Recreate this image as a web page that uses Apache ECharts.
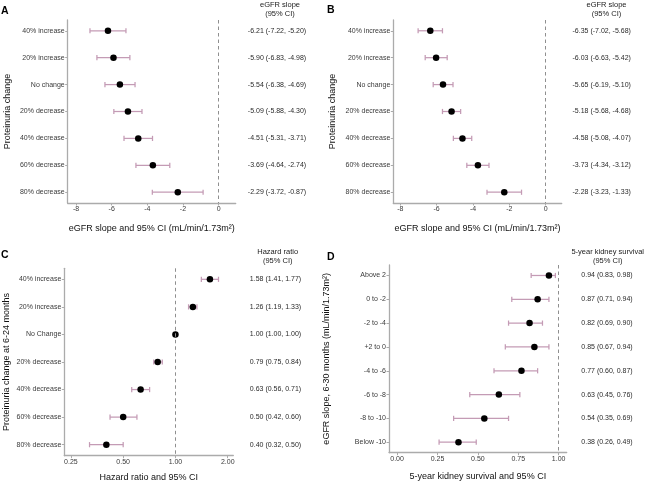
<!DOCTYPE html>
<html><head><meta charset="utf-8">
<script src="https://cdn.jsdelivr.net/npm/echarts@6/dist/echarts.min.js"></script>
<style>html,body{margin:0;padding:0;background:#fff}#c{width:647px;height:483px}</style>
</head><body><div id="c"></div>
<script>
// ---- Panel A ----
const catsA = ['40% increase','20% increase','No change','20% decrease','40% decrease','60% decrease','80% decrease'];
const estA  = [-6.21,-5.90,-5.54,-5.09,-4.51,-3.69,-2.29];
const lowA  = [-7.22,-6.83,-6.38,-5.88,-5.31,-4.64,-3.72];
const highA = [-5.20,-4.98,-4.69,-4.30,-3.71,-2.74,-0.87];
const ticksA = [-8,-6,-4,-2,0];
// ---- Panel B ----
const catsB = ['40% increase','20% increase','No change','20% decrease','40% decrease','60% decrease','80% decrease'];
const estB  = [-6.35,-6.03,-5.65,-5.18,-4.58,-3.73,-2.28];
const lowB  = [-7.02,-6.63,-6.19,-5.68,-5.08,-4.34,-3.23];
const highB = [-5.68,-5.42,-5.10,-4.68,-4.07,-3.12,-1.33];
const ticksB = [-8,-6,-4,-2,0];
// ---- Panel C ----
const catsC = ['40% increase','20% increase','No Change','20% decrease','40% decrease','60% decrease','80% decrease'];
const estC  = [1.58,1.26,1.00,0.79,0.63,0.50,0.40];
const lowC  = [1.41,1.19,1.00,0.75,0.56,0.42,0.32];
const highC = [1.77,1.33,1.00,0.84,0.71,0.60,0.50];
const ticksC = [0.25,0.5,1,2];
// ---- Panel D ----
const catsD = ['Above 2','0 to -2','-2 to -4','+2 to 0','-4 to -6','-6 to -8','-8 to -10','Below -10'];
const estD  = [0.94,0.87,0.82,0.85,0.77,0.63,0.54,0.38];
const lowD  = [0.83,0.71,0.69,0.67,0.60,0.45,0.35,0.26];
const highD = [0.98,0.94,0.90,0.94,0.87,0.76,0.69,0.49];
const ticksD = [0,0.25,0.5,0.75,1];

const FONT = '"Liberation Sans", Arial, Helvetica, sans-serif';
const BAR = '#c49bb5';
const AXIS = '#ababab';

function ann(e,l,h){ return e.map((v,k)=>v.toFixed(2)+' ('+l[k].toFixed(2)+', '+h[k].toFixed(2)+')'); }

const panels = [
  {cats:catsA, est:estA, low:lowA, high:highA, xticks:ticksA, type:'value', xmin:-8.47, xmax:0.96, ref:0,
   grid:{left:67.7, top:20, width:168, height:183}, ypad:0.4, xfmt:v=>String(v),
   xname:'eGFR slope and 95% CI (mL/min/1.73m²)', yname:'Proteinuria change', xGap:21, yGap:56, annMargin:41.3, annShift:3},
  {cats:catsB, est:estB, low:lowB, high:highB, xticks:ticksB, type:'value', xmin:-8.385, xmax:0.88, ref:0,
   grid:{left:393.3, top:20, width:168.4, height:183}, ypad:0.4, xfmt:v=>String(v),
   xname:'eGFR slope and 95% CI (mL/min/1.73m²)', yname:'Proteinuria change', xGap:21, yGap:56, annMargin:40, annShift:3},
  {cats:catsC, est:estC, low:lowC, high:highC, xticks:ticksC, type:'log', xmin:0.229, xmax:2.154, ref:1,
   grid:{left:64.3, top:268.3, width:169, height:187.4}, ypad:0.4, xfmt:v=>v.toFixed(2),
   xname:'Hazard ratio and 95% CI', yname:'Proteinuria change at 6-24 months', xGap:17, yGap:53, annMargin:42.2, annShift:0},
  {cats:catsD, est:estD, low:lowD, high:highD, xticks:ticksD, type:'value', xmin:-0.05, xmax:1.05, ref:1,
   grid:{left:389, top:265, width:177.7, height:187.7}, ypad:0.44, xfmt:v=>v.toFixed(2),
   xname:'5-year kidney survival and 95% CI', yname:'eGFR slope, 6-30 months (mL/min/1.73m²)', xGap:19, yGap:57.5, annMargin:40.3, annShift:0}
];

function errRender(params, api){
  const lo = api.coord([api.value(0), api.value(2)]);
  const hi = api.coord([api.value(1), api.value(2)]);
  const h = 2.6;
  const st = {stroke:BAR, lineWidth:1.25};
  return {type:'group', children:[
    {type:'line', shape:{x1:lo[0],y1:lo[1],x2:hi[0],y2:hi[1]}, style:st},
    {type:'line', shape:{x1:lo[0],y1:lo[1]-h,x2:lo[0],y2:lo[1]+h}, style:st},
    {type:'line', shape:{x1:hi[0],y1:hi[1]-h,x2:hi[0],y2:hi[1]+h}, style:st}
  ]};
}

const option = {animation:false, textStyle:{fontFamily:FONT}, grid:[], xAxis:[], yAxis:[], series:[], graphic:[]};

panels.forEach((p,i)=>{
  const n = p.cats.length;
  const idx = p.cats.map((_,k)=>k);
  const annText = ann(p.est, p.low, p.high);
  option.grid.push(Object.assign({containLabel:false}, p.grid));
  const xa = {gridIndex:i, type:p.type, min:p.xmin, max:p.xmax,
    axisLine:{show:true, onZero:false, lineStyle:{color:AXIS, width:1.3}},
    axisTick:{show:true, length:2.5, lineStyle:{color:AXIS}, customValues:p.xticks},
    axisLabel:{customValues:p.xticks, formatter:p.xfmt, fontSize:7, color:'#3a3a3a', margin:3, fontFamily:FONT},
    splitLine:{show:false},
    name:p.xname, nameLocation:'middle', nameGap:p.xGap, nameTextStyle:{fontSize:9, color:'#111', fontFamily:FONT}};
  if (p.type==='log') xa.logBase = 2;
  option.xAxis.push(xa);
  option.yAxis.push({gridIndex:i, type:'value', inverse:true, min:-p.ypad, max:n-1+p.ypad,
    axisLine:{show:true, onZero:false, lineStyle:{color:AXIS, width:1.3}},
    axisTick:{show:true, length:2.5, lineStyle:{color:AXIS}, customValues:idx},
    axisLabel:{customValues:idx, formatter:v=>p.cats[Math.round(v)], fontSize:7, color:'#3a3a3a', margin:3, fontFamily:FONT},
    splitLine:{show:false},
    name:p.yname, nameLocation:'middle', nameGap:p.yGap, nameTextStyle:{fontSize:9, color:'#111', fontFamily:FONT}});
  option.yAxis.push({gridIndex:i, type:'value', inverse:true, position:'right', min:-p.ypad, max:n-1+p.ypad,
    axisLine:{show:false}, axisTick:{show:false}, splitLine:{show:false},
    axisLabel:{customValues:idx, formatter:v=>annText[Math.round(v)], align:'center', margin:p.annMargin,
      fontSize:7, color:'#2a2a2a', fontFamily:FONT, padding:[0,0,2*p.annShift,0]}});
  option.series.push({type:'custom', xAxisIndex:i, yAxisIndex:2*i, renderItem:errRender,
    encode:{x:[0,1], y:2}, data:p.low.map((l,k)=>[l, p.high[k], k]), clip:false, z:2});
  option.series.push({type:'scatter', xAxisIndex:i, yAxisIndex:2*i, data:p.est.map((e,k)=>[e,k]),
    symbolSize:6.5, itemStyle:{color:'#000', opacity:1}, z:3,
    markLine:{silent:true, symbol:'none', label:{show:false}, animation:false,
      lineStyle:{color:'#8f8f8f', type:[3.5,3], width:1}, data:[{xAxis:p.ref}]}});
});

const hdr = (x,y,t)=>({type:'text', x:x, y:y, style:{text:t, align:'center', verticalAlign:'middle', fontSize:7.5, lineHeight:8.7, fill:'#222', fontFamily:FONT}});
const letter = (x,y,t)=>({type:'text', x:x, y:y, style:{text:t, align:'left', verticalAlign:'middle', fontSize:10.5, fontWeight:'bold', fill:'#000', fontFamily:FONT}});
option.graphic = [
  letter(1,11,'A'), letter(327,10,'B'), letter(1,255,'C'), letter(327,257,'D'),
  hdr(280,9.2,'eGFR slope\n(95% CI)'),
  hdr(606.5,9.2,'eGFR slope\n(95% CI)'),
  hdr(277.7,256.5,'Hazard ratio\n(95% CI)'),
  hdr(607.7,256.2,'5-year kidney survival\n(95% CI)')
];

const chart = echarts.init(document.getElementById('c'), null, {renderer:'canvas'});
chart.setOption(option);
</script></body></html>
